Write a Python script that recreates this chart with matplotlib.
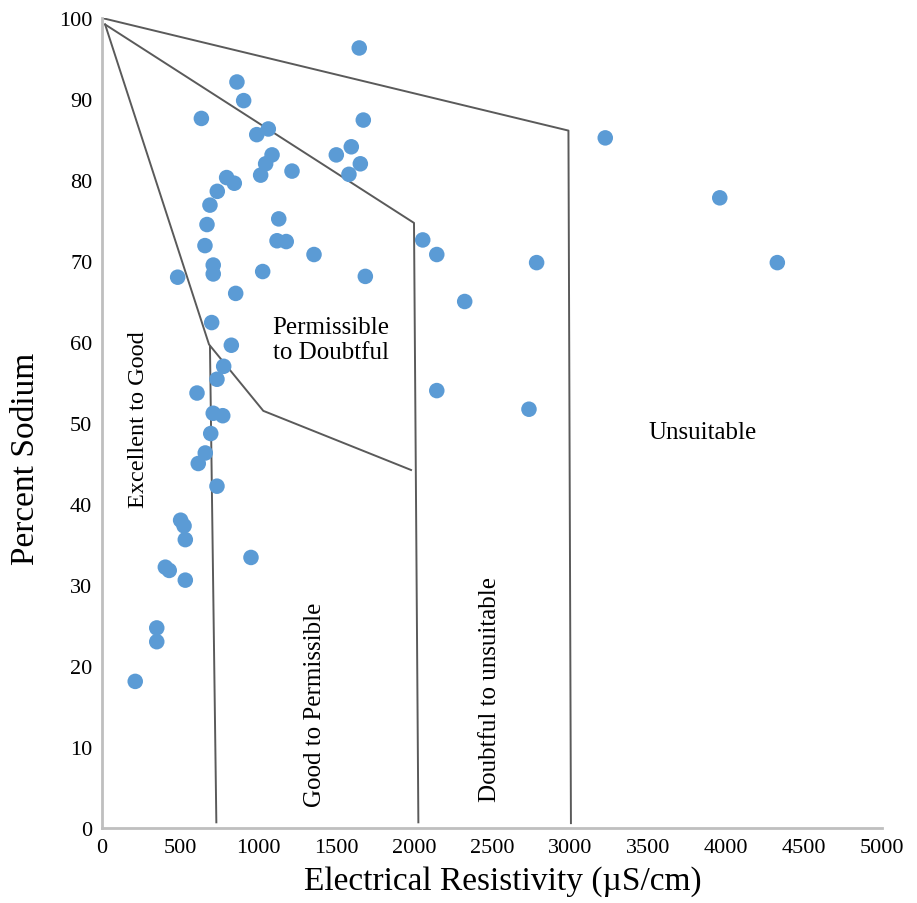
import matplotlib
matplotlib.use("Agg")
import matplotlib.pyplot as plt

plt.rcParams['font.family'] = ['Liberation Serif', 'DejaVu Serif']

# Sample points: Electrical Resistivity (uS/cm) vs Percent Sodium
ec = [1649, 865, 908, 637, 1675, 992, 1066, 1502, 1598, 1656, 1583, 1090, 1049, 1017,
      1218, 799, 848, 739, 692, 673, 660, 1133, 1122, 1181, 1359, 713, 713, 485, 1030,
      1688, 857, 703, 829, 780, 737, 609, 713, 774, 697, 662, 617, 737, 504, 526, 534,
      955, 406, 431, 534, 351, 351, 213, 2056, 2146, 2146, 3226, 2786, 2325, 2737,
      3960, 4329]
na = [96.3, 92.1, 89.8, 87.6, 87.4, 85.6, 86.3, 83.1, 84.1, 82.0, 80.7, 83.1, 82.0, 80.6,
      81.1, 80.3, 79.6, 78.6, 76.9, 74.5, 71.9, 75.2, 72.5, 72.4, 70.8, 69.5, 68.4, 68.0,
      68.7, 68.1, 66.0, 62.4, 59.6, 57.0, 55.4, 53.7, 51.2, 50.9, 48.7, 46.3, 45.0, 42.2,
      38.0, 37.3, 35.6, 33.4, 32.2, 31.8, 30.6, 24.7, 23.0, 18.1, 72.6, 70.8, 54.0, 85.2,
      69.8, 65.0, 51.7, 77.8, 69.8]

# Wilcox diagram class boundaries
outer_x = [0, 2990, 3006]
outer_y = [100, 86.1, 0.6]
mid_x = [20, 2000, 2028]
mid_y = [99.2, 74.7, 0.7]
inner_x = [20, 686, 1034, 1981]
inner_y = [99.2, 59.7, 51.5, 44.2]
exc_x = [692, 733]
exc_y = [59.5, 0.7]

xticks = [0, 500, 1000, 1500, 2000, 2500, 3000, 3500, 4000, 4500, 5000]
yticks = [0, 10, 20, 30, 40, 50, 60, 70, 80, 90, 100]

fig = plt.figure(figsize=(9.17, 9.04), dpi=100)
ax = fig.add_axes([102/917, (904-829)/904, 780/917, 810/904])

line_c = '#5a5a5a'
for xs, ys in [(outer_x, outer_y), (mid_x, mid_y), (inner_x, inner_y), (exc_x, exc_y)]:
    ax.plot(xs, ys, color=line_c, lw=1.4, zorder=2)

ax.scatter(ec, na, s=125, color='#5b9bd5', edgecolors='none', zorder=3)

ax.set_xlim(0, 5000)
ax.set_ylim(0, 100)
ax.set_xticks(xticks)
ax.set_yticks(yticks)
ax.tick_params(length=0, labelsize=16, pad=7)
for s in ['top', 'right']:
    ax.spines[s].set_visible(False)
for s in ['left', 'bottom']:
    ax.spines[s].set_color('#bfbfbf')
    ax.spines[s].set_linewidth(2)

ax.set_xlabel('Electrical Resistivity (µS/cm)', fontsize=24)
ax.set_ylabel('Percent Sodium', fontsize=24)
ax.xaxis.set_label_coords(0.514, -0.046)
ax.yaxis.set_label_coords(-0.078, 0.457)

ax.text(232, 50.5, 'Excellent to Good', rotation=90, ha='center', va='center', fontsize=17.5)
ax.text(1365, 15.3, 'Good to Permissible', rotation=90, ha='center', va='center', fontsize=18)
ax.text(2485, 17.2, 'Doubtful to unsuitable', rotation=90, ha='center', va='center', fontsize=18)
ax.text(1466, 60.3, 'Permissible\nto Doubtful', ha='center', va='center', fontsize=18,
        linespacing=1.15)
ax.text(3850, 48.9, 'Unsuitable', ha='center', va='center', fontsize=18)

fig.savefig('out.png', dpi=100)
